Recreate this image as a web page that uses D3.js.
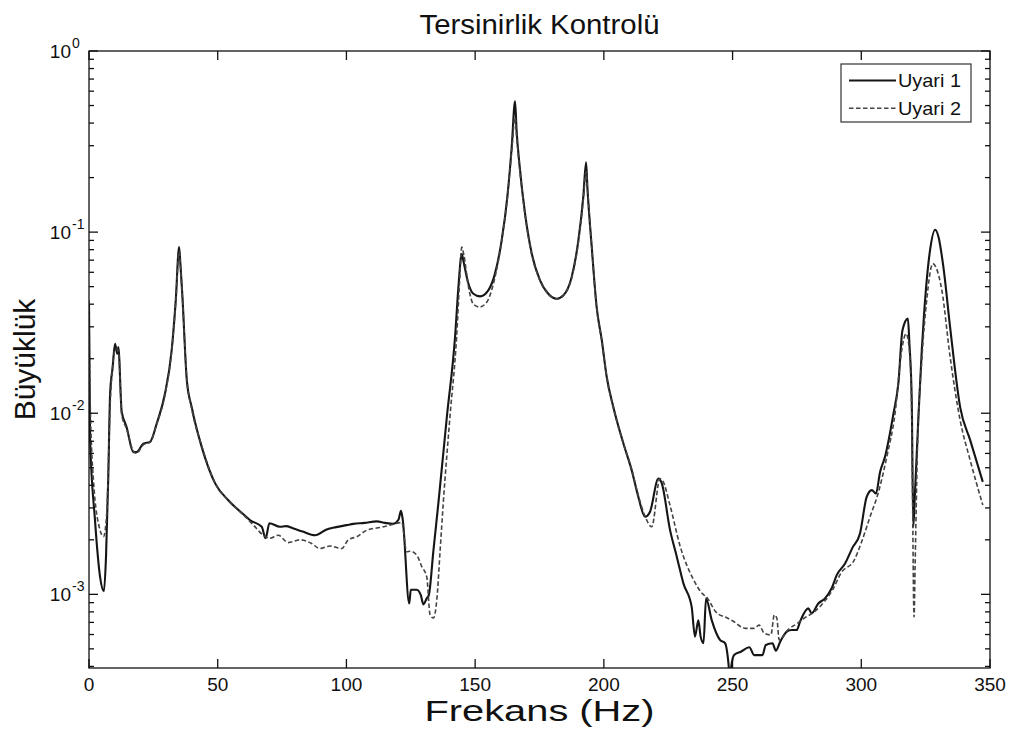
<!DOCTYPE html>
<html>
<head>
<meta charset="utf-8">
<script src="https://cdn.jsdelivr.net/npm/d3@7/dist/d3.min.js"></script>
<style>
  html, body { margin: 0; padding: 0; background: #fff; }
  svg { display: block; }
  text { font-family: "Liberation Sans", Arial, Helvetica, sans-serif; fill: #111; }
</style>
</head>
<body>
<svg id="chart" width="1009" height="731"></svg>
<script>
// ---------------- DATA ----------------
const chartTitle = "Tersinirlik Kontrolü";
const xLabel = "Frekans (Hz)";
const yLabel = "Büyüklük";
const seriesNames = ["Uyari 1", "Uyari 2"];

const xTicks = [0, 50, 100, 150, 200, 250, 300, 350];
const yMajorExponents = [0, -1, -2, -3];
const xDomain = [0, 350];
const yDomain = [3.92e-4, 1];

// Uyari 1 (solid)
const uyari1Freq = [0, 0.4, 2.3, 4.3, 5.8, 6.6, 7.5, 8.2, 9.2, 10.1, 11.0, 11.4, 12.7, 14.6, 17.2, 18.5, 21.1, 23.7, 26.3, 29.5,
  32.1, 33.7, 35.0, 35.5, 36.3, 38.0, 39.9, 43.8, 49.0, 54.1, 60.3, 62.5, 67.1, 68.6, 70.1, 74.2, 76.5, 79.4, 83.0, 87.8,
  92.3, 96.0, 100.1, 102.7, 107.0, 111.8, 115.0, 118.2, 120.2, 121.2, 121.9, 124.4, 125.0, 127.3, 128.9, 129.9, 131.2, 132.0, 133.8, 135.7,
  139.0, 142.2, 143.5, 144.8, 145.4, 147.4, 149.3, 151.9, 155.1, 157.7, 160.3, 162.5, 164.2, 165.5, 166.1, 167.2, 169.4, 172.0, 175.2, 178.4,
  181.7, 184.3, 187.5, 190.1, 192.0, 193.1, 193.6, 195.3, 197.2, 199.2, 201.1, 203.7, 207.6, 210.8, 213.4, 216.0, 217.9, 221.2, 222.5, 225.7,
  228.3, 230.9, 234.1, 235.4, 236.7, 237.6, 238.7, 239.7, 241.9, 245.1, 247.1, 248.4, 249.0, 249.5, 250.6, 253.2, 256.5, 258.4, 261.6, 262.9,
  265.5, 266.8, 268.5, 271.1, 273.0, 274.9, 276.2, 279.4, 280.7, 283.3, 285.9, 288.5, 290.5, 293.7, 296.5, 299.5, 302.1, 304.1, 305.7, 307.3,
  309.2, 312.5, 314.4, 316.0, 318.1, 318.7, 319.6, 320.2, 320.9, 322.2, 323.5, 324.4, 326.7, 328.7, 330.0, 331.9, 334.5, 338.4, 342.3, 347.2];
const uyari1Mag = [0.04, 0.0074, 0.0026, 0.00125, 0.00104, 0.0016, 0.0045, 0.0128, 0.018, 0.0242, 0.0213, 0.0232, 0.0102, 0.0084, 0.0061, 0.0061, 0.0068, 0.00695, 0.00877, 0.0128,
  0.0222, 0.042, 0.0826, 0.067, 0.0438, 0.0152, 0.0108, 0.0065, 0.0041, 0.00331, 0.00274, 0.00257, 0.00236, 0.00204, 0.00247, 0.00236, 0.00238, 0.00231, 0.00222, 0.00212,
  0.00228, 0.00235, 0.00241, 0.00245, 0.00248, 0.00253, 0.00248, 0.00245, 0.00258, 0.00289, 0.00257, 0.00089, 0.00106, 0.00106, 0.00099, 0.00088, 0.00095, 0.00099, 0.00175, 0.00317,
  0.0095, 0.0264, 0.0497, 0.076, 0.0698, 0.0519, 0.0457, 0.0442, 0.0477, 0.059, 0.090, 0.156, 0.294, 0.528, 0.364, 0.238, 0.126, 0.076, 0.0542, 0.0457,
  0.0429, 0.0448, 0.0565, 0.090, 0.156, 0.243, 0.177, 0.0826, 0.0386, 0.0253, 0.0159, 0.0108, 0.0068, 0.00485, 0.00345, 0.00268, 0.00285, 0.00436, 0.0041, 0.00227,
  0.00162, 0.00115, 0.000855, 0.000584, 0.00072, 0.000584, 0.000537, 0.00095, 0.00072, 0.00056, 0.000537, 0.000416, 0.00033, 0.0004, 0.000463, 0.000482, 0.00051, 0.000462, 0.000462, 0.000525,
  0.000537, 0.000489, 0.000548, 0.000622, 0.000635, 0.000635, 0.000706, 0.000837, 0.000786, 0.00089, 0.00095, 0.00108, 0.00128, 0.00148, 0.0018, 0.00217, 0.00345, 0.00376, 0.0036, 0.00474,
  0.00574, 0.00995, 0.0146, 0.0287, 0.0333, 0.0242, 0.0118, 0.00236, 0.00376, 0.00955, 0.0223, 0.0355, 0.0792, 0.103, 0.094, 0.0641, 0.0299, 0.0108, 0.0071, 0.00418];

// Uyari 2 (dashed)
const uyari2Freq = [0, 0.3, 1.7, 4.3, 5.6, 6.9, 8.2, 9.3, 10.1, 10.8, 11.6, 12.7, 14.6, 17.2, 18.5, 21.1, 23.7, 26.3, 29.5, 32.1,
  33.7, 35.0, 35.5, 36.3, 38.0, 39.9, 43.8, 49.0, 54.1, 60.3, 64.0, 67.7, 70.3, 73.5, 77.4, 82.0, 86.5, 89.7, 93.6, 98.2,
  100.7, 104.0, 107.9, 113.1, 116.9, 120.2, 121.5, 123.4, 124.7, 127.3, 129.3, 131.2, 132.5, 133.8, 135.1, 136.4, 137.6, 140.2, 142.8, 144.0,
  144.8, 145.6, 147.4, 149.3, 151.7, 154.5, 156.4, 157.9, 160.3, 162.5, 164.2, 165.5, 166.1, 167.2, 169.4, 172.0, 175.2, 178.4, 181.7, 184.3,
  187.5, 190.1, 192.0, 193.1, 193.7, 195.3, 197.2, 199.2, 201.1, 203.7, 207.6, 210.8, 213.4, 216.0, 218.6, 221.8, 223.0, 225.7, 229.7, 234.9,
  237.7, 240.3, 243.5, 248.1, 250.6, 253.2, 255.1, 258.4, 260.3, 262.3, 264.9, 266.2, 267.2, 268.1, 271.4, 275.2, 277.8, 281.7, 285.6, 288.9,
  292.1, 297.3, 299.9, 303.4, 306.7, 309.9, 313.1, 315.7, 317.4, 318.7, 319.6, 320.5, 320.9, 321.8, 323.5, 325.4, 327.8, 329.0, 331.3, 334.5,
  338.4, 342.3, 347.2];
const uyari2Mag = [0.042, 0.015, 0.0043, 0.00226, 0.00208, 0.0028, 0.011, 0.019, 0.0225, 0.0227, 0.021, 0.0098, 0.0082, 0.0062, 0.0060, 0.0067, 0.0069, 0.0087, 0.0126, 0.022,
  0.041, 0.078, 0.066, 0.0432, 0.0155, 0.0106, 0.0066, 0.0041, 0.0033, 0.00272, 0.0024, 0.00212, 0.00204, 0.00212, 0.00193, 0.0020, 0.00191, 0.00179, 0.00185, 0.00179,
  0.0020, 0.00208, 0.00226, 0.00234, 0.00241, 0.00248, 0.0025, 0.00172, 0.00173, 0.00165, 0.00142, 0.00125, 0.00077, 0.00074, 0.00093, 0.00175, 0.00317, 0.0095, 0.0264, 0.055,
  0.0826, 0.075, 0.05, 0.040, 0.0386, 0.041, 0.0477, 0.058, 0.089, 0.154, 0.28, 0.43, 0.34, 0.23, 0.124, 0.075, 0.054, 0.0455, 0.0428, 0.0447,
  0.056, 0.088, 0.15, 0.215, 0.17, 0.082, 0.038, 0.025, 0.0158, 0.0107, 0.0068, 0.0049, 0.0035, 0.0027, 0.00236, 0.00436, 0.0042, 0.0031, 0.00183, 0.0012,
  0.00103, 0.00095, 0.0008, 0.000738, 0.000706, 0.000663, 0.000649, 0.000649, 0.000676, 0.00061, 0.000597, 0.000769, 0.000738, 0.00056, 0.000635, 0.000692, 0.000738, 0.0008, 0.00091, 0.00106,
  0.00131, 0.00155, 0.00191, 0.00268, 0.00368, 0.00574, 0.00995, 0.0223, 0.0275, 0.0223, 0.00955, 0.00075, 0.00142, 0.00625, 0.0196, 0.042, 0.067, 0.064, 0.0477, 0.0205,
  0.00914, 0.0055, 0.00311];

// ---------------- LAYOUT ----------------
const W = 1009, H = 731;
const plot = { left: 89, right: 990, top: 51, bottom: 668 };

const svg = d3.select("#chart");
const x = d3.scaleLinear().domain(xDomain).range([plot.left, plot.right]);
const y = d3.scaleLog().domain(yDomain).range([plot.bottom, plot.top]);

svg.append("rect").attr("width", W).attr("height", H).attr("fill", "#fff");

svg.append("defs").append("clipPath").attr("id", "clip")
  .append("rect")
  .attr("x", plot.left).attr("y", plot.top)
  .attr("width", plot.right - plot.left).attr("height", plot.bottom - plot.top);

// ---------------- SERIES ----------------
const series = [
  { name: seriesNames[0], pts: uyari1Freq.map((f, i) => [f, uyari1Mag[i]]), stroke: "#151515", width: 2.1, dash: null },
  { name: seriesNames[1], pts: uyari2Freq.map((f, i) => [f, uyari2Mag[i]]), stroke: "#444", width: 1.6, dash: "4.5,2.5" }
];

const line = d3.line().x(d => x(d[0])).y(d => y(d[1])).curve(d3.curveMonotoneX);

const gLines = svg.append("g").attr("clip-path", "url(#clip)");
series.forEach(s => {
  gLines.append("path").datum(s.pts)
    .attr("d", line).attr("fill", "none")
    .attr("stroke", s.stroke).attr("stroke-width", s.width)
    .attr("stroke-dasharray", s.dash)
    .attr("stroke-linejoin", "round");
});

// ---------------- AXES ----------------
const axisColor = "#111";
const gAxes = svg.append("g").attr("stroke", axisColor).attr("stroke-width", 1.3);

gAxes.append("rect")
  .attr("x", plot.left).attr("y", plot.top)
  .attr("width", plot.right - plot.left).attr("height", plot.bottom - plot.top)
  .attr("fill", "none");

const majorLen = 9, minorLen = 5;

// x ticks (bottom and top, inward)
xTicks.forEach(v => {
  const px = x(v);
  gAxes.append("line").attr("x1", px).attr("x2", px).attr("y1", plot.bottom).attr("y2", plot.bottom - majorLen);
  gAxes.append("line").attr("x1", px).attr("x2", px).attr("y1", plot.top).attr("y2", plot.top + majorLen);
});

// y ticks (major and minor, both sides)
const yTickVals = [];
for (let e = -4; e <= 0; e++) {
  for (let m = 1; m <= 9; m++) {
    const v = m * Math.pow(10, e);
    if (v >= yDomain[0] * 0.999 && v <= yDomain[1] * 1.001) yTickVals.push({ v, major: m === 1 });
    if (e === 0) break;
  }
}
yTickVals.forEach(t => {
  const py = y(t.v);
  const len = t.major ? majorLen : minorLen;
  gAxes.append("line").attr("x1", plot.left).attr("x2", plot.left + len).attr("y1", py).attr("y2", py);
  gAxes.append("line").attr("x1", plot.right).attr("x2", plot.right - len).attr("y1", py).attr("y2", py);
});

// x tick labels
svg.append("g").selectAll("text").data(xTicks).join("text")
  .attr("x", d => x(d)).attr("y", 691)
  .attr("text-anchor", "middle")
  .attr("font-size", 19)
  .text(d => d);

// y tick labels 10^e
const gy = svg.append("g");
yMajorExponents.forEach(e => {
  const py = y(Math.pow(10, e));
  gy.append("text")
    .attr("x", 71).attr("y", py + 6.5)
    .attr("text-anchor", "end")
    .attr("font-size", 19)
    .text("10");
  gy.append("text")
    .attr("x", 72).attr("y", py - 3)
    .attr("text-anchor", "start")
    .attr("font-size", 14)
    .text(e === 0 ? "0" : String(e));
});

// title & labels
svg.append("text")
  .attr("x", (plot.left + plot.right) / 2).attr("y", 34)
  .attr("text-anchor", "middle").attr("font-size", 27)
  .attr("textLength", 240).attr("lengthAdjust", "spacingAndGlyphs")
  .text(chartTitle);

svg.append("text")
  .attr("x", (plot.left + plot.right) / 2).attr("y", 721)
  .attr("text-anchor", "middle").attr("font-size", 29)
  .attr("textLength", 230).attr("lengthAdjust", "spacingAndGlyphs")
  .text(xLabel);

svg.append("text")
  .attr("transform", `translate(35, ${(plot.top + plot.bottom) / 2}) rotate(-90)`)
  .attr("text-anchor", "middle").attr("font-size", 30)
  .text(yLabel);

// ---------------- LEGEND ----------------
const lg = svg.append("g");
const lgBox = { x: 841, y: 64, w: 130, h: 58 };
lg.append("rect")
  .attr("x", lgBox.x).attr("y", lgBox.y).attr("width", lgBox.w).attr("height", lgBox.h)
  .attr("fill", "#fff").attr("stroke", "#333").attr("stroke-width", 1.2);
const rowY = [80.5, 108.3];
series.forEach((s, i) => {
  lg.append("line")
    .attr("x1", 849).attr("x2", 896).attr("y1", rowY[i]).attr("y2", rowY[i])
    .attr("stroke", s.stroke).attr("stroke-width", s.width)
    .attr("stroke-dasharray", s.dash);
  lg.append("text")
    .attr("x", 898).attr("y", rowY[i] + 6.5)
    .attr("font-size", 19)
    .attr("textLength", 63).attr("lengthAdjust", "spacingAndGlyphs")
    .text(s.name);
});
</script>
</body>
</html>
